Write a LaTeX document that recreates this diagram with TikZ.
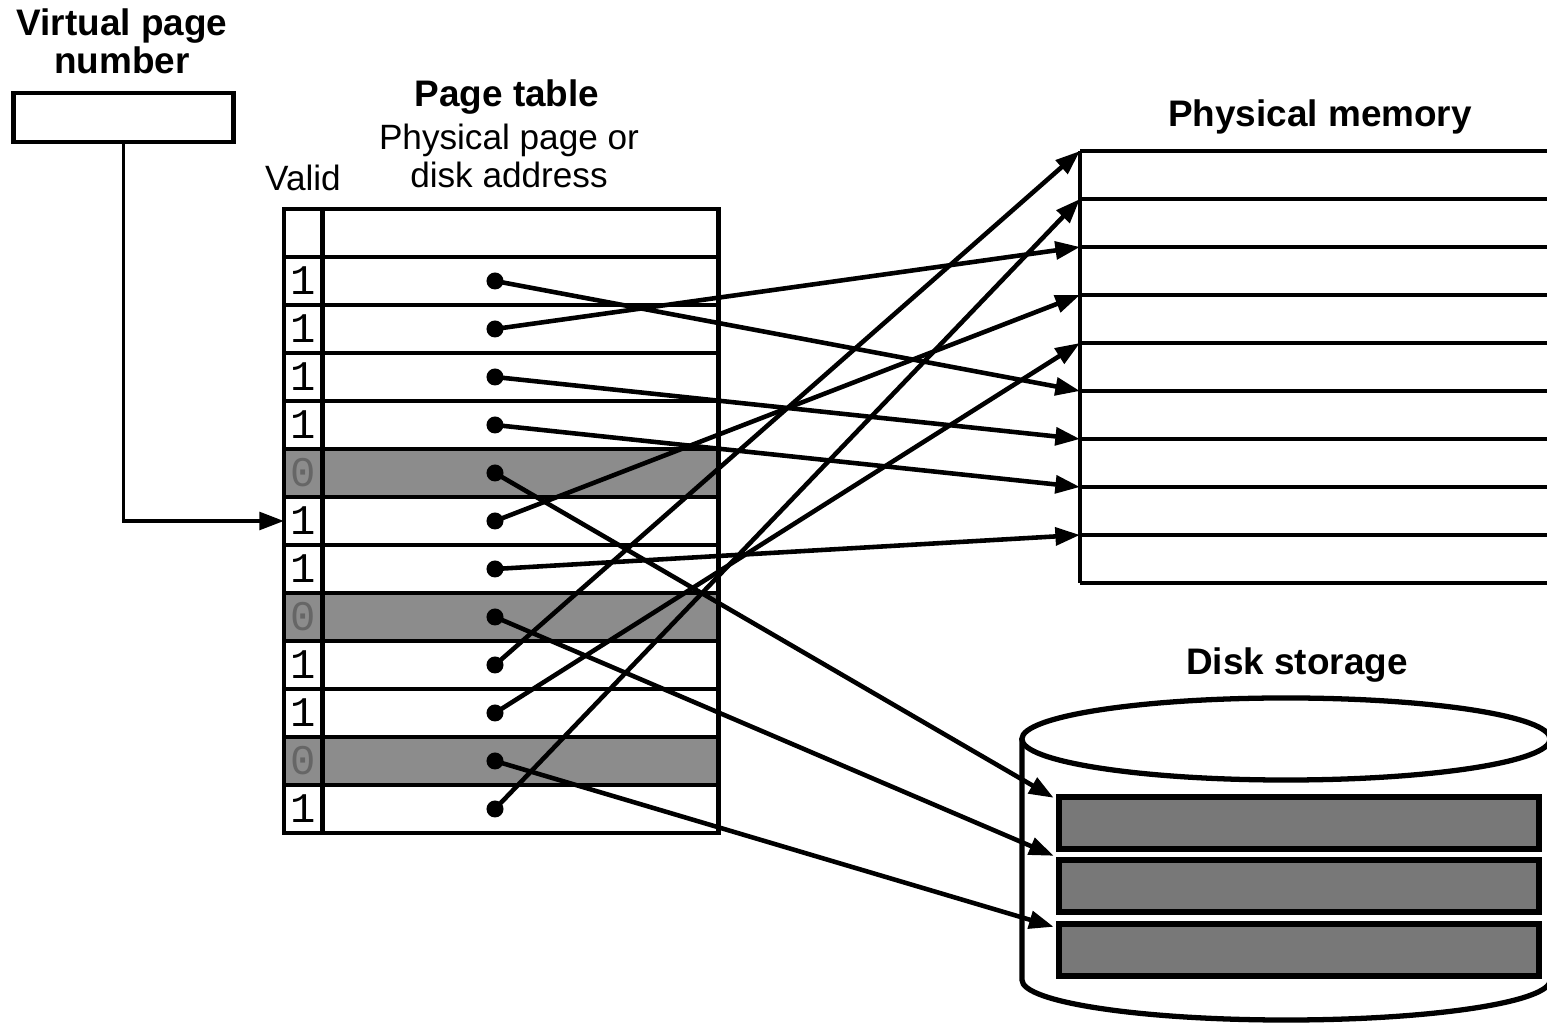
\documentclass[tikz,border=0pt]{standalone}
\usepackage{fontspec}
\setmainfont{Liberation Sans}
\setmonofont{Liberation Mono}
\usetikzlibrary{arrows.meta, calc}
\definecolor{rowgray}{RGB}{140, 140, 140}
\definecolor{diskgray}{RGB}{120, 120, 120}

\tikzset{
  cell/.style={draw, line width=1.4pt, minimum height=0.48cm, inner sep=0pt, outer sep=0pt},
  validcell/.style={cell, minimum width=0.39cm, font=\ttfamily\fontsize{12}{12}\selectfont},
  addrcell/.style={cell, minimum width=3.95cm},
  row1/.style={},
  row0/.style={fill=rowgray, text=black!60},
  ptr/.style={line width=1.3pt, -{Triangle[length=7pt, width=5pt]}},
  dot/.style={circle, fill=black, inner sep=0pt, minimum size=0.17cm},
  title/.style={font=\bfseries\fontsize{10.5}{10.8}\selectfont, align=center},
  plain/.style={font=\fontsize{10}{10.8}\selectfont, align=center},
  slotbox/.style={draw, line width=1.8pt, fill=diskgray, minimum width=4.8cm, minimum height=0.52cm}
}

\begin{document}
\begin{tikzpicture}[x=0.01cm, y=-0.01cm]
  \useasboundingbox (0,0) rectangle (1547,1028);

  % Virtual page number
  \node[title] at (122,41) {Virtual page\\number};
  \node[draw, line width=1.4pt, minimum width=2.19cm, minimum height=0.49cm] (vpn) at (123.5,117.5) {};

  % Page table
  \node[title] at (507,97) {Page table};
  \node[plain] at (509,156) {Physical page or\\disk address};
  \node[plain] at (303,178) {Valid};
  \node[validcell] (v0) at (303.5,233) {};
  \node[addrcell] (a0) at (520.5,233) {};
  \foreach \b [count=\i] in {1,1,1,1,0,1,1,0,1,1,0,1} {
    \pgfmathsetmacro\y{281+48*(\i-1)}
    \node[validcell, row\b] (v\i) at (303.5,\y) {\b};
    \node[addrcell, row\b] (a\i) at (520.5,\y) {};
  }

  % Physical memory
  \node[title] at (1320,117) {Physical memory};
  \foreach \k in {0,...,9} {
    \coordinate (m\k) at (1080,{151+48*\k});
    \draw[line width=1.4pt] (m\k) -- ++(480,0);
  }
  \draw[line width=1.4pt] (m0) -- (m9);

  % Disk storage
  \node[title] at (1297,665) {Disk storage};
  \draw[line width=1.5pt] (1286,739) ellipse [x radius=2.64cm, y radius=0.41cm];
  \draw[line width=1.5pt] (1022,739) -- (1022,980)
    arc[start angle=180, end angle=360, x radius=2.64cm, y radius=0.40cm] -- (1550,739);
  \node[slotbox] (s1) at (1299,823) {};
  \node[slotbox] (s2) at (1299,886) {};
  \node[slotbox] (s3) at (1299,950) {};

  % Lookup
  \draw[line width=1.1pt, -{Triangle[length=7pt, width=5pt]}] (vpn.south) |- (v6.west);

  % Entries
  \foreach \i in {1,...,12} {
    \node[dot] (d\i) at (495,{281+48*(\i-1)}) {};
  }
  \draw[ptr] (d1.center) -- (m5);
  \draw[ptr] (d2.center) -- (m2);
  \draw[ptr] (d3.center) -- (m6);
  \draw[ptr] (d4.center) -- (m7);
  \draw[ptr] (d5.center) -- ($(s1.north west)+(-2,4)$);
  \draw[ptr] (d6.center) -- (m3);
  \draw[ptr] (d7.center) -- (m8);
  \draw[ptr] (d8.center) -- ($(s2.north west)+(-2,-1)$);
  \draw[ptr] (d9.center) -- (m0);
  \draw[ptr] (d10.center) -- (m4);
  \draw[ptr] (d11.center) -- ($(s3.north west)+(-2,6)$);
  \draw[ptr] (d12.center) -- (m1);
\end{tikzpicture}
\end{document}
